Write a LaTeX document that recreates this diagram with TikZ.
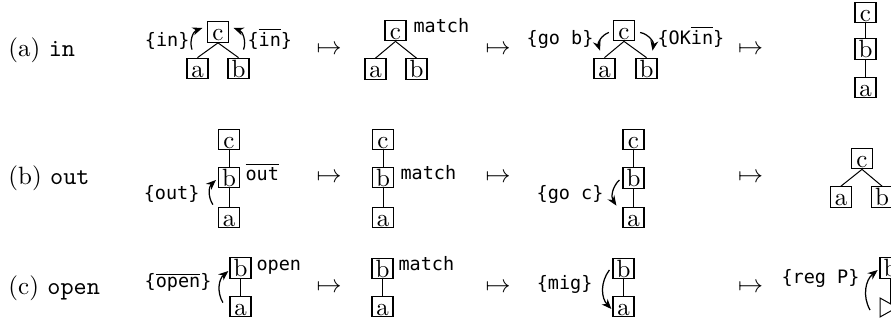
\documentclass[tikz,border=0pt]{standalone}
\usepackage{fontspec}
\newfontfamily\labfont{DejaVu Sans Mono}
\usetikzlibrary{arrows.meta,calc}
\tikzset{
  bx/.style={draw, line width=0.5pt, inner sep=0pt, minimum width=8.4pt, minimum height=8.2pt, text height=6.9pt, text depth=0pt},
  lbl/.style={inner sep=0pt, font=\labfont\fontsize{7.4}{8}\selectfont},
  arr/.style={-{Stealth[length=4pt,width=3.2pt]}, line width=0.5pt},
  mt/.style={inner sep=0pt},
  ttl/.style={anchor=west, inner sep=0pt},
}
\begin{document}
\begin{tikzpicture}[x=0.4pt,y=-0.4pt]
\clip (0,0) rectangle (891,324);
% ---------- row (a)
\node[ttl] (ta) at (8,50) {(a) \texttt{in}};
\node[bx] (a1c) at (218,32) {c};
\node[bx] (a1a) at (197.5,68.5) {a};
\node[bx] (a1b) at (238.5,68.5) {b};
\draw (a1c.south) -- (a1a.north);
\draw (a1c.south) -- (a1b.north);
\draw[arr] ([shift={(-5.5,-8)}]a1a.north) to[bend left=45] ([shift={(-4.5,-4)}]a1c.west);
\draw[arr] ([shift={(5,-8)}]a1b.north) to[bend right=45] ([shift={(4.5,-4)}]a1c.east);
\node[lbl, anchor=base east] (a1l) at (190,47) {\{in\}};
\node[lbl, anchor=base west] (a1r) at (247,47) {\{$\overline{\mbox{in}}$\}};
\node[mt] (am1) at (329,50) {$\mapsto$};
\node[bx] (a2c) at (395.5,30.5) {c};
\node[bx] (a2a) at (375.5,69) {a};
\node[bx] (a2b) at (416.5,69) {b};
\draw (a2c.south) -- (a2a.north);
\draw (a2c.south) -- (a2b.north);
\node[lbl, anchor=base west] (a2m) at (413,33) {match};
\node[mt] (am2) at (498,50) {$\mapsto$};
\node[bx] (a3c) at (624,30.5) {c};
\node[bx] (a3a) at (604.5,68.5) {a};
\node[bx] (a3b) at (646.5,68.5) {b};
\draw (a3c.south) -- (a3a.north);
\draw (a3c.south) -- (a3b.north);
\draw[arr] ([shift={(-4,2)}]a3c.west) to[bend right=45] ([shift={(-4.5,-7)}]a3a.north);
\draw[arr] ([shift={(5,2)}]a3c.east) to[bend left=45] ([shift={(6,-7)}]a3b.north);
\node[lbl, anchor=base east] (a3l) at (594,45) {\{go b\}};
\node[lbl, anchor=base west] (a3r) at (657,45) {\{OK$\overline{\mbox{in}}$\}};
\node[mt] (am3) at (750.5,50) {$\mapsto$};
\node[bx] (a4c) at (865.5,12.5) {c};
\node[bx] (a4b) at (865.5,49) {b};
\node[bx] (a4a) at (865.5,87.5) {a};
\draw (a4c) -- (a4b);
\draw (a4b) -- (a4a);
% ---------- row (b)
\node[ttl] (tb) at (8,178) {(b) \texttt{out}};
\node[bx] (b1c) at (229,139.5) {c};
\node[bx] (b1b) at (229,177.5) {b};
\node[bx] (b1a) at (229,217.5) {a};
\draw (b1c) -- (b1b);
\draw (b1b) -- (b1a);
\node[lbl, anchor=base west] (b1o) at (245,181) {$\overline{\mbox{out}}$};
\node[lbl, anchor=base east] (b1l) at (200,200) {\{out\}};
\draw[arr] ([shift={(-5,-2)}]b1a.north west) to[bend left=40] ([shift={(-2,2.5)}]b1b.west);
\node[mt] (bm1) at (329,178) {$\mapsto$};
\node[bx] (b2c) at (383,139.5) {c};
\node[bx] (b2b) at (383,177.5) {b};
\node[bx] (b2a) at (383,217.5) {a};
\draw (b2c) -- (b2b);
\draw (b2b) -- (b2a);
\node[lbl, anchor=base west] (b2m) at (400,180) {match};
\node[mt] (bm2) at (498,178) {$\mapsto$};
\node[bx] (b3c) at (633.5,139.5) {c};
\node[bx] (b3b) at (633.5,178) {b};
\node[bx] (b3a) at (633.5,217.5) {a};
\draw (b3c) -- (b3b);
\draw (b3b) -- (b3a);
\node[lbl, anchor=base east] (b3l) at (604,200) {\{go c\}};
\draw[arr] ([shift={(-3,2)}]b3b.west) to[bend right=40] ([shift={(-6,-1)}]b3a.north west);
\node[mt] (bm3) at (750.5,178) {$\mapsto$};
\node[bx] (b4c) at (862,158.5) {c};
\node[bx] (b4a) at (841,197) {a};
\node[bx] (b4b) at (882,197) {b};
\draw (b4c.south) -- (b4a.north);
\draw (b4c.south) -- (b4b.north);
% ---------- row (c)
\node[ttl] (tc) at (8,288) {(c) \texttt{open}};
\node[bx] (c1b) at (240.5,268) {b};
\node[bx] (c1a) at (240.5,306.5) {a};
\draw (c1b) -- (c1a);
\node[lbl, anchor=base west] (c1o) at (256,271) {open};
\node[lbl, anchor=base east] (c1l) at (212,288) {\{$\overline{\mbox{open}}$\}};
\draw[arr] ([shift={(-6.5,7)}]c1a.north west) to[bend left=40] ([shift={(-1,3)}]c1b.west);
\node[mt] (cm1) at (329,288) {$\mapsto$};
\node[bx] (c2b) at (382.5,268.5) {b};
\node[bx] (c2a) at (382.5,306.5) {a};
\draw (c2b) -- (c2a);
\node[lbl, anchor=base west] (c2m) at (398,271) {match};
\node[mt] (cm2) at (498,288) {$\mapsto$};
\node[bx] (c3b) at (623.5,268.5) {b};
\node[bx] (c3a) at (623.5,306.5) {a};
\draw (c3b) -- (c3a);
\node[lbl, anchor=base east] (c3l) at (593,290) {\{mig\}};
\draw[arr] ([shift={(-3,1.5)}]c3b.west) to[bend right=40] ([shift={(-1,2.5)}]c3a.west);
\node[mt] (cm3) at (750.5,288) {$\mapsto$};
\node[lbl, anchor=base east] (c4l) at (860,284) {\{reg P\}};
\node[bx] (c4b) at (890.5,268) {b};
\coordinate (t1) at (880,298);
\coordinate (t2) at (880,317);
\coordinate (t3) at (897,307.5);
\coordinate (tl) at (880,307.5);
\draw (t1) -- (t2) -- (t3) -- cycle;
\draw (c4b.south) -- ($(t1)!0.62!(t3)$);
\draw[arr] ([shift={(-10,2.5)}]tl) to[bend left=40] ([shift={(-1.7,2)}]c4b.west);
\end{tikzpicture}
\end{document}
